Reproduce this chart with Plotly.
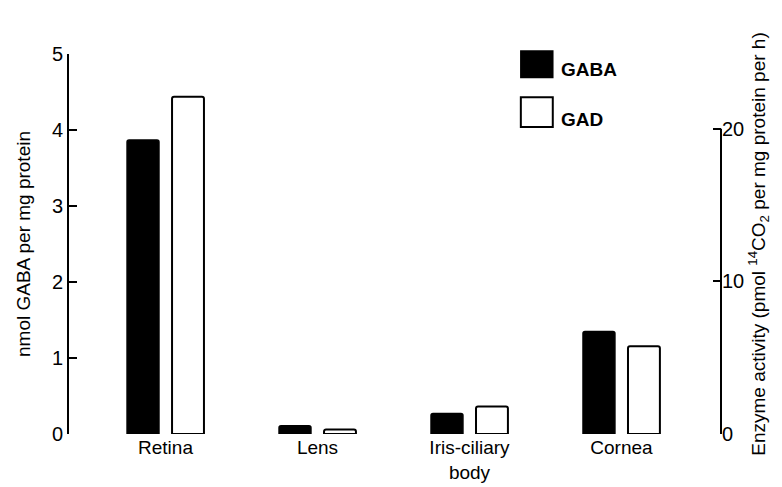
import plotly.graph_objects as go

categories = ["Retina", "Lens", "Iris-ciliary<br>body", "Cornea"]
gaba_values = [3.87, 0.11, 0.27, 1.35]      # nmol GABA per mg protein (left axis)
gad_values = [22.1, 0.3, 1.8, 5.75]          # pmol 14CO2 per mg protein per h (right axis)
left_ticks = [0, 1, 2, 3, 4, 5]
right_ticks = [0, 10, 20]

x = list(range(len(categories)))
FONT = "Liberation Sans, Arial, sans-serif"

fig = go.Figure()
fig.add_trace(go.Bar(
    x=x, y=gaba_values, name="GABA", width=0.21, offset=-0.253,
    marker=dict(color="black", line=dict(color="black", width=1.5), cornerradius=2),
    showlegend=False, yaxis="y"))
fig.add_trace(go.Bar(
    x=x, y=gad_values, name="GAD", width=0.21, offset=0.043,
    marker=dict(color="white", line=dict(color="black", width=2), cornerradius=2),
    showlegend=False, yaxis="y2"))

fig.update_layout(
    width=782, height=487,
    margin=dict(l=61, r=69, t=46, b=55),
    paper_bgcolor="white", plot_bgcolor="white",
    font=dict(family=FONT, color="black", size=19),
    barmode="overlay",
    xaxis=dict(range=[-0.635, 3.655], tickvals=x, ticktext=categories,
               showline=False, showgrid=False, zeroline=False, ticks="",
               tickfont=dict(size=19)),
    yaxis=dict(range=[0, 5], tickvals=left_ticks, showgrid=False, zeroline=False,
               showline=True, linecolor="black", linewidth=2,
               ticks="inside", ticklen=8, tickwidth=2, tickcolor="black",
               tickfont=dict(size=20),
               title=dict(text="nmol GABA per mg protein", font=dict(size=19), standoff=16)),
    yaxis2=dict(range=[0, 24.9], tickvals=right_ticks, overlaying="y", side="right",
                showgrid=False, zeroline=False, showline=False,
                ticks="inside", ticklen=8, tickwidth=2, tickcolor="black",
                tickfont=dict(size=20),
                title=dict(text="Enzyme activity (pmol <sup>14</sup>CO<sub>2</sub> per mg protein per h)",
                           font=dict(size=19), standoff=8)),
)

# right axis line spanning 0..20 only
fig.add_shape(type="line", xref="paper", yref="y2", x0=1, x1=1, y0=0, y1=right_ticks[-1],
              line=dict(color="black", width=2))

# legend keys
fig.add_shape(type="rect", xref="paper", yref="paper", x0=0.693, x1=0.742, y0=0.938, y1=1.008,
              fillcolor="black", line=dict(color="black", width=1.5))
fig.add_shape(type="rect", xref="paper", yref="paper", x0=0.693, x1=0.742, y0=0.808, y1=0.886,
              fillcolor="white", line=dict(color="black", width=2))
fig.add_annotation(xref="paper", yref="paper", x=0.751, y=0.926, text="<b>GABA</b>", showarrow=False,
                   xanchor="left", yanchor="bottom", font=dict(size=19, family=FONT))
fig.add_annotation(xref="paper", yref="paper", x=0.751, y=0.796, text="<b>GAD</b>", showarrow=False,
                   xanchor="left", yanchor="bottom", font=dict(size=19, family=FONT))

fig.write_html("out.html")
